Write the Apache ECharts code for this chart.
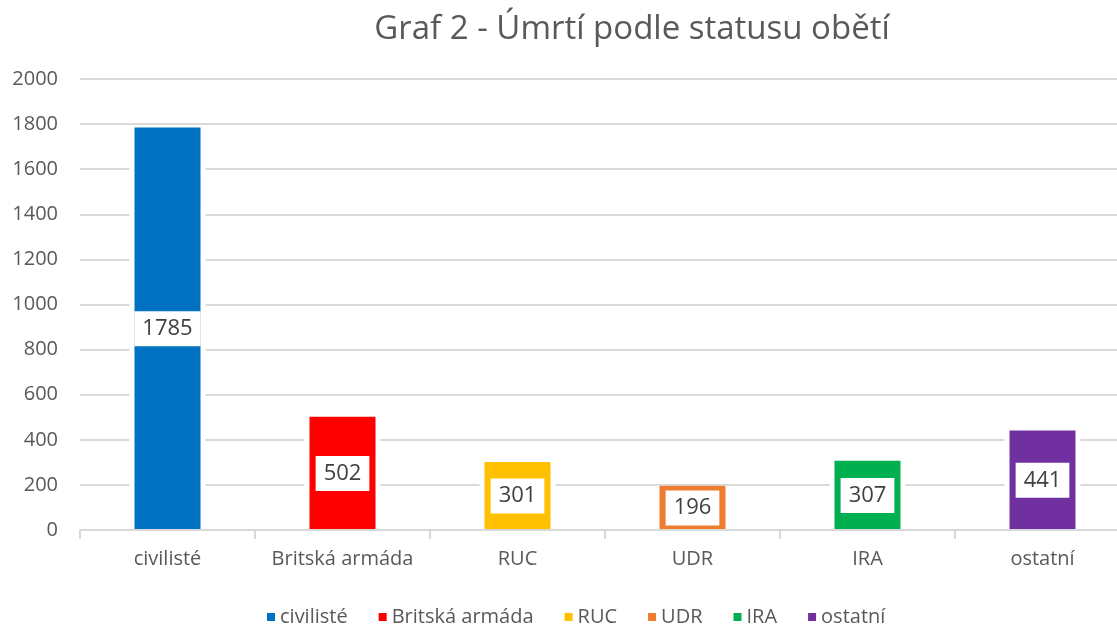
<!DOCTYPE html>
<html>
<head>
<meta charset="utf-8">
<script src="https://cdn.jsdelivr.net/npm/echarts@6/dist/echarts.min.js"></script>
<style>
  html, body { margin: 0; padding: 0; background: #fff; }
  #chart { width: 1117px; height: 625px; }
</style>
</head>
<body>
<div id="chart"></div>
<script>
"use strict";

/***** Data *****/
var categories = ['civilisté', 'Britská armáda', 'RUC', 'UDR', 'IRA', 'ostatní'];
var deaths = [1785, 502, 301, 196, 307, 441];
var colors = ['#0070C0', '#FF0000', '#FFC000', '#ED7D31', '#00B050', '#7030A0'];
var yTicks = [0, 200, 400, 600, 800, 1000, 1200, 1400, 1600, 1800, 2000];

/***** Chart *****/
var chart = echarts.init(document.getElementById('chart'));
var font = "'Open Sans', sans-serif";

function slot(i) {
	return categories.map(function (c, j) { return j === i ? deaths[i] : '-'; });
}

// white halo bars behind (gridline gap like Excel), on a hidden twin axis
var halo = [{
	name: 'halo',
	type: 'bar',
	xAxisIndex: 1,
	barWidth: 76,
	silent: true,
	legendHoverLink: false,
	itemStyle: { color: '#fff' },
	data: deaths
}];

// one series per category, only its own slot filled
var series = categories.map(function (name, i) {
	return {
		name: name,
		type: 'bar',
		stack: 'all',
		barWidth: 66,
		data: slot(i),
		itemStyle: { color: colors[i] },
		label: {
			show: true,
			position: 'inside',
			backgroundColor: '#fff',
			padding: [7, 8, 6, 8],
			color: '#404040',
			fontFamily: font,
			fontSize: 22
		}
	};
});

chart.setOption({
	animation: false,
	color: colors,
	title: {
		text: 'Graf 2 - Úmrtí podle statusu obětí',
		left: 627,
		top: 8,
		textAlign: 'center',
		textStyle: {
			color: '#595959',
			fontFamily: font,
			fontSize: 33,
			fontWeight: 'normal'
		}
	},
	legend: {
		data: categories,
		top: 602,
		left: 262,
		itemWidth: 8,
		itemHeight: 8,
		itemGap: 31,
		icon: 'rect',
		textStyle: {
			color: '#595959',
			fontFamily: font,
			fontSize: 20
		}
	},
	grid: {
		left: 80,
		width: 1050,
		top: 79,
		height: 451,
		outerBoundsMode: 'none'
	},
	xAxis: [{
		type: 'category',
		data: categories,
		z: 10,
		axisLine: { lineStyle: { color: '#d9d9d9', width: 2 } },
		axisTick: { show: true, interval: 0, length: 9, lineStyle: { color: '#d9d9d9', width: 2 } },
		axisLabel: {
			interval: 0,
			color: '#595959',
			fontFamily: font,
			fontSize: 20,
			margin: 19
		}
	}, {
		type: 'category',
		data: categories,
		show: false
	}],
	yAxis: {
		type: 'value',
		min: yTicks[0],
		max: yTicks[yTicks.length - 1],
		interval: 200,
		axisLine: { show: false },
		axisTick: { show: false },
		splitLine: { lineStyle: { color: '#d9d9d9', width: 2 } },
		axisLabel: {
			color: '#595959',
			fontFamily: font,
			fontSize: 20,
			margin: 22,
			formatter: function (v) { return String(v); }
		}
	},
	series: halo.concat(series)
});
</script>
</body>
</html>
